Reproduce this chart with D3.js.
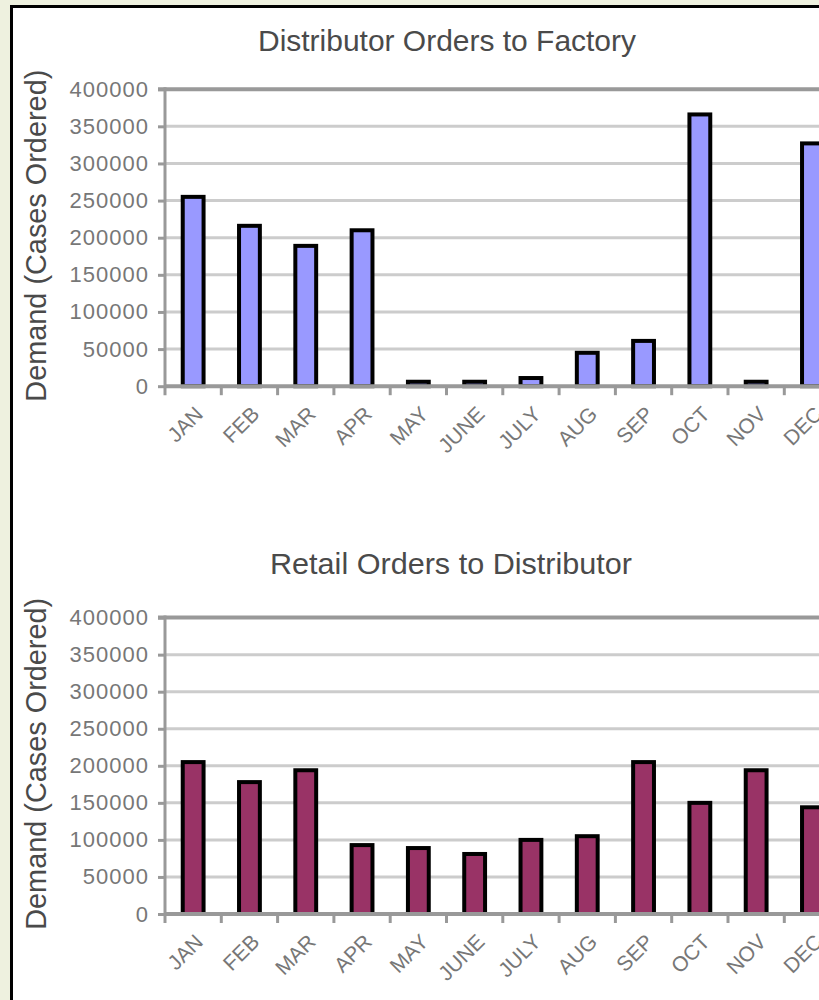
<!DOCTYPE html>
<html>
<head>
<meta charset="utf-8">
<script src="https://cdn.jsdelivr.net/npm/d3@7"></script>
<style>
  html, body { margin: 0; padding: 0; background: #eef1df; }
  svg { display: block; }
  text { font-family: "Liberation Sans", Arial, sans-serif; }
</style>
</head>
<body>
<svg id="chart" width="819" height="1000"></svg>
<script>
// Monthly order data (cases)
const months = ["JAN","FEB","MAR","APR","MAY","JUNE","JULY","AUG","SEP","OCT","NOV","DEC"];
const distributorOrders = [255000, 216000, 189000, 210000, 6000, 6000, 11000, 45000, 61000, 366000, 6000, 327000];
const retailOrders = [205000, 178000, 194000, 93000, 89000, 81000, 100000, 105000, 205000, 150000, 194000, 144000];
const yTicks = [0, 50000, 100000, 150000, 200000, 250000, 300000, 350000, 400000];

const svg = d3.select("#chart");

// Page background and framed white panel
svg.append("rect").attr("x", 0).attr("y", 0).attr("width", 819).attr("height", 1000).attr("fill", "#eef1df");
svg.append("rect").attr("x", 11.5).attr("y", 6.5).attr("width", 830).attr("height", 1010)
  .attr("fill", "#ffffff").attr("stroke", "#000").attr("stroke-width", 3);

function drawChart(cfg) {
  const g = svg.append("g");
  const left = 165, step = 56.3;
  const x = d3.scaleBand().domain(months)
    .range([left, left + step * months.length])
    .paddingInner(0.63).paddingOuter(0.315);
  const y = d3.scaleLinear().domain([0, 400000]).range([cfg.bottom, cfg.top]);
  const right = left + step * months.length;

  // Title
  g.append("text").attr("x", cfg.titleX).attr("y", cfg.titleY)
    .attr("text-anchor", "middle").attr("font-size", 30).attr("fill", "#4a4a4a")
    .attr("textLength", cfg.titleLen).attr("lengthAdjust", "spacingAndGlyphs")
    .text(cfg.title);

  // Axis title
  g.append("text")
    .attr("transform", `translate(46,${(cfg.top + cfg.bottom) / 2 - 2}) rotate(-90)`)
    .attr("text-anchor", "middle").attr("font-size", 29).attr("fill", "#4a4a4a")
    .attr("textLength", 332).attr("lengthAdjust", "spacingAndGlyphs")
    .text("Demand (Cases Ordered)");

  // Horizontal gridlines
  g.selectAll(".grid").data(yTicks.filter(v => v > 0 && v < 400000)).enter()
    .append("line")
    .attr("x1", left).attr("x2", right)
    .attr("y1", d => y(d)).attr("y2", d => y(d))
    .attr("stroke", "#cccccc").attr("stroke-width", 3);

  // Plot area top border
  g.append("line").attr("x1", left - 7).attr("x2", right)
    .attr("y1", y(400000)).attr("y2", y(400000))
    .attr("stroke", "#999").attr("stroke-width", 4);

  // Y axis with ticks on the left
  const yAxis = d3.axisLeft(y).tickValues(yTicks).tickSize(7).tickPadding(9)
    .tickFormat(d3.format("d"));
  const ya = g.append("g").attr("transform", `translate(${left},0)`).call(yAxis);
  ya.select(".domain").remove();
  ya.selectAll(".tick line").attr("stroke", "#999").attr("stroke-width", 3);
  ya.selectAll(".tick text").attr("font-size", 22).attr("fill", "#777")
    .attr("letter-spacing", 1)
    .attr("font-family", "\"Liberation Sans\", Arial, sans-serif");
  g.append("line").attr("x1", left).attr("x2", left)
    .attr("y1", y(400000) - 2).attr("y2", cfg.bottom + 9)
    .attr("stroke", "#999").attr("stroke-width", 3);

  // Bars
  g.selectAll(".bar").data(months).enter().append("rect")
    .attr("x", d => x(d))
    .attr("width", x.bandwidth())
    .attr("y", (d, i) => y(cfg.values[i]))
    .attr("height", (d, i) => y(0) - y(cfg.values[i]))
    .attr("fill", cfg.color).attr("stroke", "#000").attr("stroke-width", 4);

  // Baseline (category axis)
  g.append("line").attr("x1", left).attr("x2", right)
    .attr("y1", y(0)).attr("y2", y(0))
    .attr("stroke", "#999").attr("stroke-width", 4);
  g.selectAll(".xtick").data(d3.range(1, months.length)).enter().append("line")
    .attr("x1", i => left + i * x.step()).attr("x2", i => left + i * x.step())
    .attr("y1", y(0)).attr("y2", y(0) + 9)
    .attr("stroke", "#999").attr("stroke-width", 3);

  // Rotated month labels
  g.selectAll(".xlab").data(months).enter().append("text")
    .attr("transform", d => `translate(${x(d) + x.bandwidth() / 2 + 6},${y(0) + 24}) rotate(-45)`)
    .attr("text-anchor", "end").attr("font-size", 21).attr("fill", "#777")
    .attr("dy", "0.35em")
    .text(d => d);
}

drawChart({ title: "Distributor Orders to Factory", titleX: 447, titleY: 51, titleLen: 378,
  top: 89.2, bottom: 386.2, values: distributorOrders, color: "#9999ff" });
drawChart({ title: "Retail Orders to Distributor", titleX: 451, titleY: 574, titleLen: 362,
  top: 617.6, bottom: 914, values: retailOrders, color: "#993366" });
</script>
</body>
</html>
